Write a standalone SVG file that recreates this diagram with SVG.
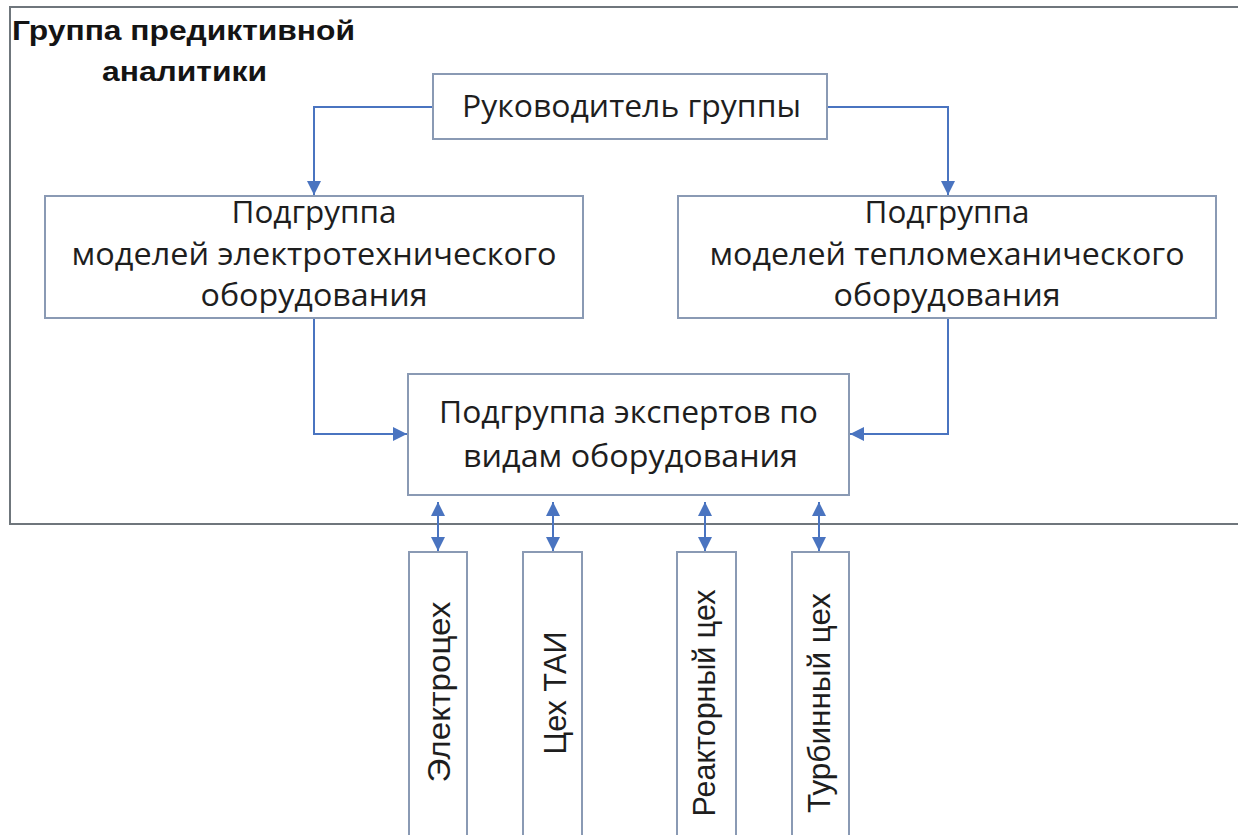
<svg xmlns="http://www.w3.org/2000/svg" width="1238" height="835" viewBox="0 0 1238 835">
  <style>
    .frame { fill: none; stroke: #6f767c; stroke-width: 2; }
    .box { fill: #ffffff; stroke: #8a9ab4; stroke-width: 2; }
    .conn { fill: none; stroke: #4a74c0; stroke-width: 2; }
    .t { font-family: "Open Sans", "Noto Sans", sans-serif; font-size: 31px; fill: #1e1e1e; text-anchor: middle; }
    .v { font-family: "Liberation Sans", Arial, sans-serif; font-size: 32px; fill: #1e1e1e; text-anchor: middle; }
    .title { font-family: "Liberation Sans", Arial, sans-serif; font-size: 27px; font-weight: bold; fill: #141414; }
  </style>
  <defs>
    <marker id="arr" viewBox="0 0 10 10" refX="10" refY="5" markerWidth="15" markerHeight="14" markerUnits="userSpaceOnUse" orient="auto-start-reverse">
      <path d="M0,0 L10,5 L0,10 z" fill="#4a74c0"/>
    </marker>
  </defs>
  <rect width="1238" height="835" fill="#ffffff"/>

  <g id="group-frame">
    <path class="frame" d="M1240,7 H10 V524 H1240"/>
    <text class="title" x="12" y="40" textLength="343" lengthAdjust="spacingAndGlyphs">Группа предиктивной</text>
    <text class="title" x="102" y="81" textLength="165" lengthAdjust="spacingAndGlyphs">аналитики</text>
  </g>

  <g id="connectors">
    <path class="conn" d="M433,107 H314 V195" marker-end="url(#arr)"/>
    <path class="conn" d="M827,107 H948 V195" marker-end="url(#arr)"/>
    <path class="conn" d="M314,319 V434 H407" marker-end="url(#arr)"/>
    <path class="conn" d="M948,319 V434 H850" marker-end="url(#arr)"/>
    <path class="conn" d="M438,502 V551" marker-start="url(#arr)" marker-end="url(#arr)"/>
    <path class="conn" d="M553,502 V551" marker-start="url(#arr)" marker-end="url(#arr)"/>
    <path class="conn" d="M705,502 V551" marker-start="url(#arr)" marker-end="url(#arr)"/>
    <path class="conn" d="M819,502 V551" marker-start="url(#arr)" marker-end="url(#arr)"/>
  </g>

  <g id="head">
    <rect class="box" x="433" y="74" width="394" height="65"/>
    <text class="t" x="631.5" y="117" textLength="339" lengthAdjust="spacingAndGlyphs">Руководитель группы</text>
  </g>

  <g id="sub-electro">
    <rect class="box" x="45" y="196" width="538" height="122"/>
    <text class="t" x="314" y="223" textLength="165" lengthAdjust="spacingAndGlyphs">Подгруппа</text>
    <text class="t" x="314" y="265" textLength="485" lengthAdjust="spacingAndGlyphs">моделей электротехнического</text>
    <text class="t" x="314" y="306" textLength="227" lengthAdjust="spacingAndGlyphs">оборудования</text>
  </g>

  <g id="sub-thermo">
    <rect class="box" x="678" y="196" width="538" height="122"/>
    <text class="t" x="947" y="223" textLength="165" lengthAdjust="spacingAndGlyphs">Подгруппа</text>
    <text class="t" x="947" y="265" textLength="475" lengthAdjust="spacingAndGlyphs">моделей тепломеханического</text>
    <text class="t" x="947" y="306" textLength="227" lengthAdjust="spacingAndGlyphs">оборудования</text>
  </g>

  <g id="experts">
    <rect class="box" x="408" y="374" width="441" height="121"/>
    <text class="t" x="628.5" y="423" textLength="379" lengthAdjust="spacingAndGlyphs">Подгруппа экспертов по</text>
    <text class="t" x="630.5" y="467" textLength="335" lengthAdjust="spacingAndGlyphs">видам оборудования</text>
  </g>

  <g id="shop-electro">
    <rect class="box" x="409" y="552" width="58" height="300"/>
    <text class="v" transform="translate(450,692) rotate(-90)" textLength="181" lengthAdjust="spacingAndGlyphs">Электроцех</text>
  </g>

  <g id="shop-tai">
    <rect class="box" x="523" y="552" width="59" height="300"/>
    <text class="v" transform="translate(566,693) rotate(-90)" textLength="123" lengthAdjust="spacingAndGlyphs">Цех ТАИ</text>
  </g>

  <g id="shop-reactor">
    <rect class="box" x="677" y="552" width="59" height="300"/>
    <text class="v" transform="translate(715,703) rotate(-90)" textLength="227" lengthAdjust="spacingAndGlyphs">Реакторный цех</text>
  </g>

  <g id="shop-turbine">
    <rect class="box" x="792" y="552" width="57" height="300"/>
    <text class="v" transform="translate(830,703) rotate(-90)" textLength="220" lengthAdjust="spacingAndGlyphs">Турбинный цех</text>
  </g>
</svg>
